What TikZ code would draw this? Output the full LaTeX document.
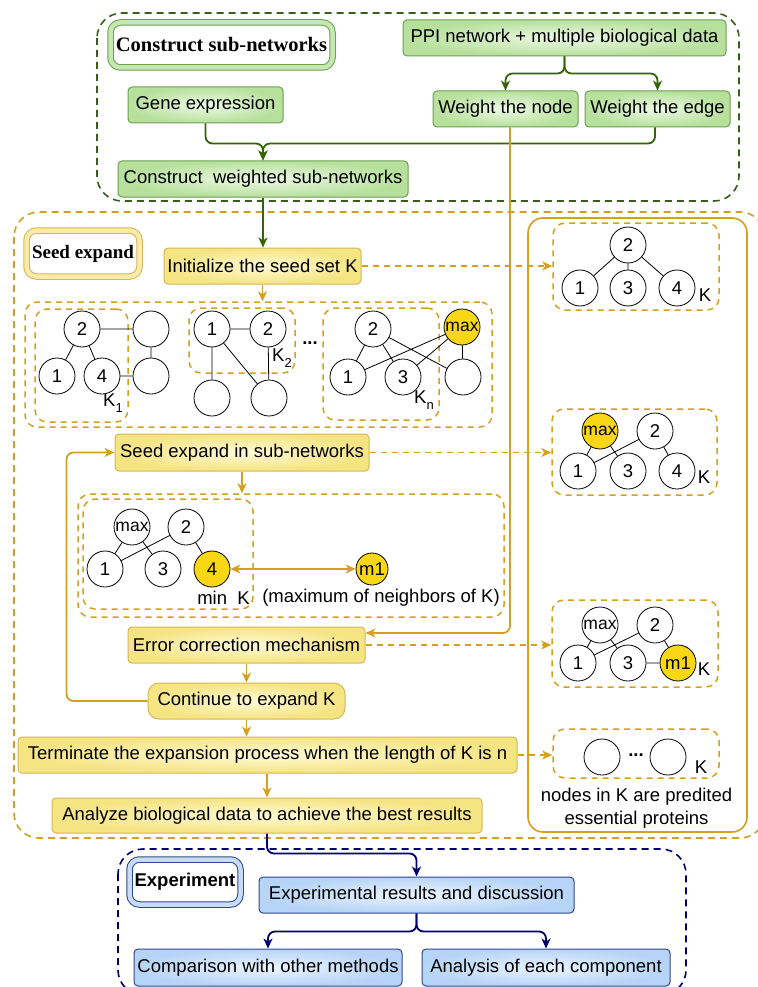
\documentclass[tikz,border=0pt]{standalone}
\usepackage{fontspec}
\setmainfont{Liberation Sans}
\newfontfamily\serifb{Liberation Serif}
\usetikzlibrary{arrows.meta,calc}
\definecolor{gstroke}{RGB}{110,160,80}
\definecolor{gouter}{RGB}{182,224,155}
\definecolor{ginner}{RGB}{238,250,232}
\definecolor{glight}{RGB}{195,232,178}
\definecolor{gline}{RGB}{51,102,0}
\definecolor{gdash}{RGB}{55,95,25}
\definecolor{ystroke}{RGB}{214,182,86}
\definecolor{youter}{RGB}{245,228,130}
\definecolor{yinner}{RGB}{255,250,215}
\definecolor{yline}{RGB}{212,160,30}
\definecolor{ylight}{RGB}{250,235,170}
\definecolor{ynode}{RGB}{250,215,20}
\definecolor{bstroke}{RGB}{50,70,140}
\definecolor{bouter}{RGB}{182,212,246}
\definecolor{binner}{RGB}{236,244,255}
\definecolor{bline}{RGB}{0,0,110}
\definecolor{blight}{RGB}{200,220,250}
\tikzset{
  tip/.tip={Stealth[length=10pt,width=9pt,inset=3pt]},
  txt/.style={font=\fontsize{18.5}{22}\selectfont, inner sep=0pt},
  gbox/.style={txt, rectangle, rounded corners=4pt, draw=gstroke, line width=1pt, inner color=ginner, outer color=gouter, minimum height=36pt},
  ybox/.style={txt, rectangle, rounded corners=4pt, draw=ystroke, line width=1pt, inner color=yinner, outer color=youter, minimum height=36pt},
  bbox/.style={txt, rectangle, rounded corners=4pt, draw=bstroke, line width=1pt, inner color=binner, outer color=bouter, minimum height=36pt},
  dlabel/.style={rectangle, rounded corners=10pt, line width=1pt, double distance=4.5pt, fill=white, inner sep=0pt},
  circ/.style={txt, circle, draw=black, line width=0.8pt, fill=white, minimum size=36pt},
  ycirc/.style={circ, fill=ynode},
  gedge/.style={line width=0.8pt},
  garrow/.style={draw=gline, line width=1.8pt, rounded corners=7pt, -tip},
  yarrow/.style={draw=yline, line width=1.8pt, rounded corners=7pt, -tip},
  ydash/.style={draw=yline, line width=1.5pt, dash pattern=on 6pt off 5pt, -tip},
  barrow/.style={draw=bline, line width=1.8pt, rounded corners=7pt, -tip},
  gframe/.style={draw=gdash, line width=1.6pt, dash pattern=on 7pt off 5pt, rounded corners=25pt},
  yframe/.style={draw=yline, line width=1.6pt, dash pattern=on 7pt off 5pt, rounded corners=25pt},
  bframe/.style={draw=bline, line width=1.6pt, dash pattern=on 7pt off 5pt, rounded corners=25pt},
  ypanel/.style={draw=yline, line width=1.5pt, dash pattern=on 6pt off 5pt, rounded corners=12pt, inner sep=0pt},
}
\begin{document}
\begin{tikzpicture}[x=1pt,y=-1pt]
\useasboundingbox[fill=white] (0,0) rectangle (757,987);

%% ---------- top: construct sub-networks ----------
\draw[gframe] (97,13) rectangle (739,201);
\node[dlabel, draw=gstroke, double=glight, minimum width=222pt, minimum height=45pt,
      font=\serifb\bfseries\fontsize{20.5}{24}\selectfont] (lcsn) at (221.5,45) {Construct sub-networks};
\node[gbox, minimum width=323pt] (ppi) at (564.5,38) {PPI network + multiple biological data};
\node[gbox, minimum width=145pt] (wn) at (505.5,109) {Weight the node};
\node[gbox, minimum width=145pt] (we) at (657.5,109) {Weight the edge};
\node[gbox, minimum width=155pt] (ge) at (205.5,105) {Gene expression};
\node[gbox, minimum width=290pt] (cw) at (263,179) {Construct\ \ weighted sub-networks};

\draw[garrow] (ppi.south) -- ++(0,17) -| (wn.north);
\draw[garrow] (ppi.south) -- ++(0,17) -| (we.north);
\draw[garrow] (ge.south) -- ++(0,20) -| (cw.north);
\draw[garrow] ([xshift=-2.5pt]we.south) -- ++(0,16) -| (cw.north);

%% ---------- seed expand ----------
\draw[yframe] (14,212) rectangle (765,838);
\draw[draw=yline, line width=1.6pt, rounded corners=15pt] (528,218) rectangle (747,832);
\node[dlabel, draw=ystroke, double=ylight, minimum width=113pt, minimum height=46pt,
      font=\serifb\bfseries\fontsize{19}{22}\selectfont] (lse) at (83,253.5) {Seed expand};

\node[ybox, minimum width=197pt] (init) at (262.5,266) {Initialize the seed set K};
\draw[garrow] (cw.south) -- (cw.south |- init.north);

% panel A
\node[ypanel, minimum width=467pt, minimum height=125pt] (panA) at (258.5,364.5) {};
\draw[yarrow] (init.south) -- (init.south |- panA.north);
\node[ypanel, minimum width=93pt, minimum height=113pt] (kb1) at (81.5,365.5) {};
\node[ypanel, minimum width=106pt, minimum height=65pt] (kb2) at (242,340.5) {};
\node[ypanel, minimum width=116pt, minimum height=112pt] (kbn) at (381,364) {};

\node[circ] (a2) at (82,329) {2};
\node[circ] (aT) at (151,329) {};
\node[circ] (a1) at (57,376) {1};
\node[circ] (a4) at (102,376) {4};
\node[circ] (aB) at (151,376) {};
\draw[gedge] (a2) -- (a1) (a2) -- (a4) (a2) -- (aT) (aT) -- (aB) (a4) -- (aB);
\node[txt] (k1) at (113,403) {K\raisebox{-6pt}{\fontsize{13}{14}\selectfont 1}};

\node[circ] (b1) at (212,329) {1};
\node[circ] (b2) at (268,329) {2};
\node[circ] (bL) at (212,398) {};
\node[circ] (bR) at (269,398) {};
\draw[gedge] (b1) -- (b2) (b1) -- (bL) (b1) -- (bR) (b2) -- (bR);
\node[txt] (k2) at (282,358) {K\raisebox{-6pt}{\fontsize{13}{14}\selectfont 2}};
\node[txt] (dots1) at (310,343) {\textbf{...}};

\node[circ] (c2) at (373,329) {2};
\node[ycirc, font=\fontsize{17.5}{20}\selectfont] (cm) at (462,327) {max};
\node[circ] (c1) at (348,377) {1};
\node[circ] (c3) at (403,377) {3};
\node[circ] (cE) at (463,377) {};
\draw[gedge] (c2) -- (c1) (c2) -- (c3) (c2) -- (cE) (cm) -- (c1) (cm) -- (c3) (cm) -- (cE);
\node[txt] (kn) at (424,400) {K\raisebox{-6pt}{\fontsize{13}{14}\selectfont n}};

% seed expand in sub-networks
\node[ybox, minimum width=254pt, minimum height=37pt] (seeds) at (242,452.5) {Seed expand in sub-networks};

% panel B
\node[ypanel, minimum width=426pt, minimum height=123pt] (panB) at (291,555.5) {};
\node[ypanel, minimum width=170pt, minimum height=110pt] (kbB) at (168,554) {};
\draw[yarrow] (seeds.south) -- (seeds.south |- panB.north);
\node[circ, font=\fontsize{17.5}{20}\selectfont] (dm) at (132,527) {max};
\node[circ] (d2) at (186,527) {2};
\node[circ] (d1) at (105,569) {1};
\node[circ] (d3) at (163,569) {3};
\node[ycirc] (d4) at (212,569) {4};
\node[ycirc, minimum size=32pt] (m1) at (372,569) {m1};
\draw[gedge] (dm) -- (d1) (dm) -- (d3) (d2) -- (d1) (d2) -- (d4);
\draw[draw=yline, line width=1.8pt, tip-tip] (d4) -- (m1);
\node[txt] (mink) at (223.5,598) {min\ \ K};
\node[txt] (maxn) at (381,598) {(maximum of neighbors of K)};

\node[ybox, minimum width=237pt] (ec) at (246.5,645) {Error correction mechanism};
\node[ybox, minimum width=197pt, rounded corners=11pt] (cont) at (246.5,701) {Continue to expand K};
\node[ybox, minimum width=499pt] (term) at (267.5,755) {Terminate the expansion process when the length of K is n};
\node[ybox, minimum width=430pt, minimum height=35pt] (an) at (267,815.5) {Analyze biological data to achieve the best results};

\draw[yarrow] ([xshift=4.5pt]wn.south) |- ([yshift=12pt]ec.east);
\draw[yarrow] (ec.south) -- (cont.north);
\draw[yarrow] (cont.west) -- ++(-81,0) |- (seeds.west);
\draw[yarrow] (cont.south) -- (cont.south |- term.north);
\draw[yarrow] (term.south -| an.north) -- (an.north);

%% ---------- right column ----------
\node[ypanel, minimum width=166pt, minimum height=87pt] (rp1) at (636,266.5) {};
\node[circ] (e2) at (628,245) {2};
\node[circ] (e1) at (580,288) {1};
\node[circ] (e3) at (628,288) {3};
\node[circ] (e4) at (677,288) {4};
\draw[gedge] (e2) -- (e1) (e2) -- (e3) (e2) -- (e4);
\node[txt] (ke) at (705,295) {K};

\node[ypanel, minimum width=165pt, minimum height=86pt] (rp2) at (634.5,452) {};
\node[ycirc, font=\fontsize{17.5}{20}\selectfont] (fm) at (600,431) {max};
\node[circ] (f2) at (655,431) {2};
\node[circ] (f1) at (578,471) {1};
\node[circ] (f3) at (628,471) {3};
\node[circ] (f4) at (677,471) {4};
\draw[gedge] (fm) -- (f1) (fm) -- (f3) (f2) -- (f1) (f2) -- (f4);
\node[txt] (kf) at (704,477) {K};

\node[ypanel, minimum width=166pt, minimum height=87pt] (rp3) at (635,643.5) {};
\node[circ, font=\fontsize{17.5}{20}\selectfont] (gm) at (600,625) {max};
\node[circ] (g2) at (655,625) {2};
\node[circ] (g1) at (578,663) {1};
\node[circ] (g3) at (628,663) {3};
\node[ycirc] (gm1) at (678,663) {m1};
\draw[gedge] (gm) -- (g1) (gm) -- (g3) (g2) -- (g1) (g2) -- (gm1) (g3) -- (gm1);
\node[txt] (kg) at (704,669) {K};

\node[ypanel, minimum width=166pt, minimum height=49pt] (rp4) at (636,753.5) {};
\node[circ] (h1) at (602,757) {};
\node[circ] (h2) at (668,757) {};
\node[txt] (dots2) at (636,755) {\textbf{...}};
\node[txt] (kh) at (701,767) {K};
\node[txt, align=center, font=\fontsize{18.5}{23}\selectfont] (ess) at (636.5,808.5) {nodes in K are predited\\essential proteins};

\draw[ydash] (init.east) -- (init.east -| rp1.west);
\draw[ydash] (seeds.east) -- (seeds.east -| rp2.west);
\draw[ydash] (ec.east) -- (ec.east -| rp3.west);
\draw[ydash] (term.east) -- (term.east -| rp4.west);

%% ---------- experiment ----------
\draw[bframe] (118,849) rectangle (686,995);
\node[dlabel, draw=bstroke, double=blight, minimum width=111pt, minimum height=45pt,
      font=\bfseries\fontsize{18.5}{22}\selectfont] (lex) at (185,882) {Experiment};
\node[bbox, minimum width=315pt] (er) at (416.5,895) {Experimental results and discussion};
\node[bbox, minimum width=268pt, minimum height=37pt] (comp) at (268,967.5) {Comparison with other methods};
\node[bbox, minimum width=248pt, minimum height=37pt] (anal) at (546,967.5) {Analysis of each component};
\draw[barrow] (an.south) -- ++(0,20) -| (er.north);
\draw[barrow] (er.south) -- ++(0,18) -| (comp.north);
\draw[barrow] (er.south) -- ++(0,18) -| (anal.north);
\end{tikzpicture}
\end{document}
